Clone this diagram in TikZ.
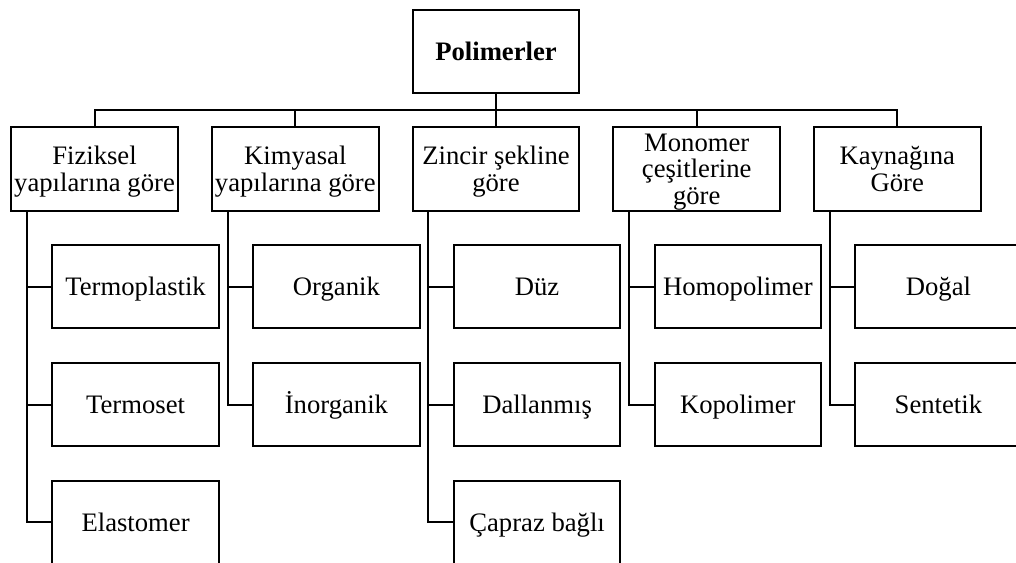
\documentclass[tikz,border=0pt]{standalone}
\usepackage{fontspec}
\setmainfont{Liberation Serif}
\usetikzlibrary{calc}
\begin{document}
\begin{tikzpicture}[x=0.75pt,y=-0.75pt,
  boxbase/.style={draw, line width=1.5pt, inner sep=0pt, minimum width=124.9pt, minimum height=62.4pt},
  multi/.style={boxbase, align=center, font=\fontsize{20}{20}\selectfont, text depth=0pt},
  single/.style={boxbase, font=\fontsize{20}{20}\selectfont, text height=13.2pt, text depth=0pt},
  conn/.style={line width=1.5pt}]
\useasboundingbox (0,0) rectangle (1016,562);
\clip (0,0) rectangle (1016,562);
% root
\node[single, minimum height=62pt, font=\fontsize{20}{20}\selectfont\bfseries] (root) at (496,51.3) {Polimerler};
% categories
\node[multi] (c1) at (94.5,169) {Fiziksel\\yapılarına göre};
\node[multi] (c2) at (295.3,169) {Kimyasal\\yapılarına göre};
\node[multi] (c3) at (496,169) {Zincir şekline\\göre};
\node[multi] (c4) at (696.7,169) {Monomer\\çeşitlerine\\göre};
\node[multi] (c5) at (897.3,169) {Kaynağına\\Göre};
% children
\node[single] (k11) at (135.6,286.8) {Termoplastik};
\node[single] (k12) at (135.6,404.5) {Termoset};
\node[single] (k13) at (135.6,522.3) {Elastomer};
\node[single] (k21) at (336.4,286.8) {Organik};
\node[single] (k22) at (336.4,404.5) {İnorganik};
\node[single] (k31) at (537.1,286.8) {Düz};
\node[single] (k32) at (537.1,404.5) {Dallanmış};
\node[single] (k33) at (537.1,522.3) {Çapraz bağlı};
\node[single] (k41) at (737.8,286.8) {Homopolimer};
\node[single] (k42) at (737.8,404.5) {Kopolimer};
\node[single] (k51) at (938.4,286.8) {Doğal};
\node[single] (k52) at (938.4,404.5) {Sentetik};
% bus
\coordinate (bus) at (0,110);
\foreach \c in {c1,c2,c3,c4,c5}
  \draw[conn] (root.south) -- (root.south |- bus) -| (\c.north);
% trunks to children
\foreach \c/\k in {c1/k11,c1/k12,c1/k13,c2/k21,c2/k22,c3/k31,c3/k32,c3/k33,c4/k41,c4/k42,c5/k51,c5/k52}
  \draw[conn] ($(\c.south west)+(16.7,0)$) |- (\k.west);
\end{tikzpicture}
\end{document}
